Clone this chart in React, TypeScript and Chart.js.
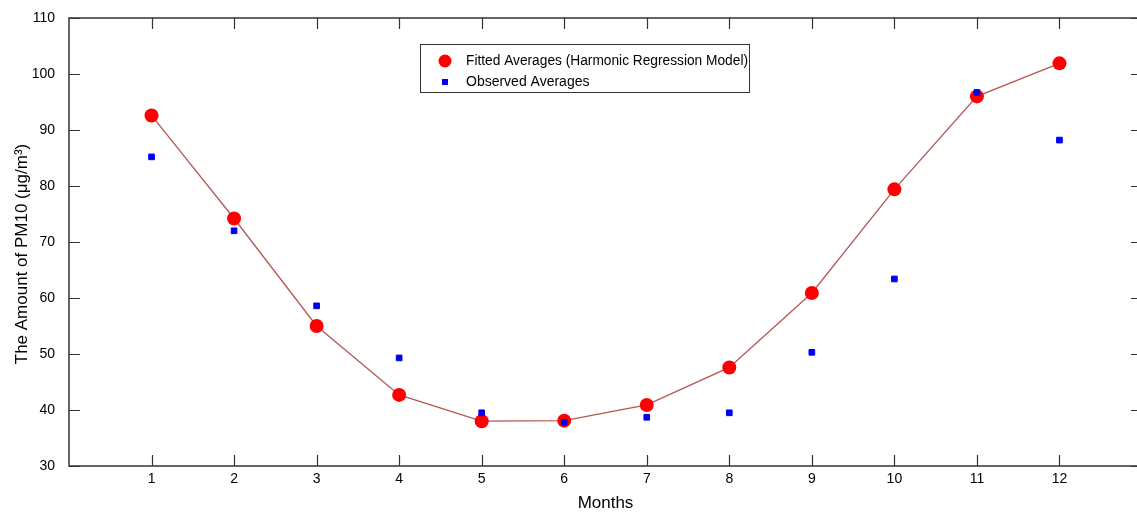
import { useEffect, useRef } from "react";
import { Chart, registerables } from "chart.js";

Chart.register(...registerables);

const months = [1, 2, 3, 4, 5, 6, 7, 8, 9, 10, 11, 12];
const fittedAverages = [92.6, 74.2, 55.0, 42.7, 38.0, 38.1, 40.9, 47.6, 60.9, 79.4, 96.0, 101.9];
const observedAverages = [85.2, 72.0, 58.6, 49.3, 39.5, 37.8, 38.7, 39.5, 50.3, 63.4, 96.7, 88.2];
const yTicks = [30, 40, 50, 60, 70, 80, 90, 100, 110];
const legendLabels = ["Fitted Averages (Harmonic Regression Model)", "Observed Averages"];
const xTitle = "Months";
const yTitle = "The Amount of PM10 (μg/m³)";

const FONT = "'Liberation Sans', Arial, sans-serif";

const framePlugin = {
  id: "frame",
  afterDraw(chart: any) {
    const { ctx, chartArea } = chart;
    const { left, right, top, bottom } = chartArea;
    const x = chart.scales.x;
    const y = chart.scales.y;
    ctx.save();
    ctx.strokeStyle = "#333";
    ctx.lineWidth = 1.5;
    ctx.strokeRect(Math.round(left), Math.round(top), Math.round(right - left), Math.round(bottom - top));
    const tl = 11;
    ctx.lineWidth = 1.2;
    ctx.beginPath();
    months.forEach((m) => {
      const px = Math.round(x.getPixelForValue(m)) + 0.5;
      ctx.moveTo(px, bottom);
      ctx.lineTo(px, bottom - tl);
      ctx.moveTo(px, top);
      ctx.lineTo(px, top + tl);
    });
    yTicks.forEach((v) => {
      const py = Math.round(y.getPixelForValue(v)) + 0.5;
      ctx.moveTo(left, py);
      ctx.lineTo(left + tl, py);
      ctx.moveTo(right, py);
      ctx.lineTo(right - tl, py);
    });
    ctx.stroke();

    // y axis title
    ctx.save();
    ctx.translate(22, 254);
    ctx.rotate(-Math.PI / 2);
    ctx.fillStyle = "#000";
    ctx.font = `17px ${FONT}`;
    ctx.textAlign = "center";
    ctx.textBaseline = "middle";
    ctx.fillText(yTitle, 0, 0);
    ctx.restore();

    // legend
    const bx = 420.5, by = 44.5, bw = 329, bh = 48;
    ctx.fillStyle = "#fff";
    ctx.fillRect(bx, by, bw, bh);
    ctx.lineWidth = 1;
    ctx.strokeStyle = "#333";
    ctx.strokeRect(bx, by, bw, bh);
    ctx.fillStyle = "#ff0000";
    ctx.beginPath();
    ctx.arc(445, 61, 6.5, 0, Math.PI * 2);
    ctx.fill();
    ctx.fillStyle = "#0000ee";
    ctx.fillRect(442, 79, 6, 6);
    ctx.fillStyle = "#000";
    ctx.font = `14px ${FONT}`;
    ctx.textBaseline = "middle";
    ctx.textAlign = "left";
    ctx.fillText(legendLabels[0], 466, 61, 282);
    ctx.fillText(legendLabels[1], 466, 82);
    ctx.restore();
  },
};

export default function App() {
  const ref = useRef<HTMLCanvasElement>(null);
  useEffect(() => {
    if (!ref.current) return;
    const chart = new Chart(ref.current, {
      type: "line",
      data: {
        datasets: [
          {
            label: legendLabels[1],
            data: months.map((m, i) => ({ x: m, y: observedAverages[i] })),
            showLine: false,
            pointStyle: "rect",
            pointRadius: 4,
            pointBackgroundColor: "#0000ee",
            pointBorderColor: "#0000ee",
            pointBorderWidth: 1,
            order: 0,
          },
          {
            label: legendLabels[0],
            data: months.map((m, i) => ({ x: m, y: fittedAverages[i] })),
            borderColor: "#b45654",
            borderWidth: 1.3,
            pointStyle: "circle",
            pointRadius: 7,
            pointBackgroundColor: "#ff0000",
            pointBorderColor: "#ff0000",
            pointBorderWidth: 0,
            tension: 0,
            order: 1,
          },
        ],
      },
      options: {
        responsive: false,
        animation: false,
        layout: { padding: { top: 18, right: 2, left: 0, bottom: 0 } },
        plugins: { legend: { display: false }, tooltip: { enabled: false } },
        scales: {
          x: {
            type: "linear",
            min: 0,
            max: 13,
            grid: { display: false },
            border: { display: false },
            afterBuildTicks: (s: any) => {
              s.ticks = months.map((m) => ({ value: m }));
            },
            afterFit: (s: any) => {
              s.height = 48;
            },
            ticks: {
              color: "#000",
              padding: -3,
              font: { family: FONT, size: 14 },
              callback: (v: any) => String(v),
            },
            title: {
              display: true,
              text: xTitle,
              color: "#000",
              font: { family: FONT, size: 17 },
              padding: { top: 0, bottom: 0 },
            },
          },
          y: {
            type: "linear",
            min: 30,
            max: 110,
            grid: { display: false },
            border: { display: false },
            afterBuildTicks: (s: any) => {
              s.ticks = yTicks.map((v) => ({ value: v }));
            },
            afterFit: (s: any) => {
              s.width = 69;
            },
            ticks: {
              color: "#000",
              padding: 6,
              font: { family: FONT, size: 14 },
            },
            title: { display: false },
          },
        },
      },
      plugins: [framePlugin],
    });
    return () => chart.destroy();
  }, []);
  return (
    <div
      style={{
        position: "fixed",
        left: 0,
        top: 0,
        width: 1137,
        height: 514,
        overflow: "hidden",
        background: "#fff",
      }}
    >
      <canvas ref={ref} width={1149} height={514} style={{ display: "block" }} />
    </div>
  );
}
